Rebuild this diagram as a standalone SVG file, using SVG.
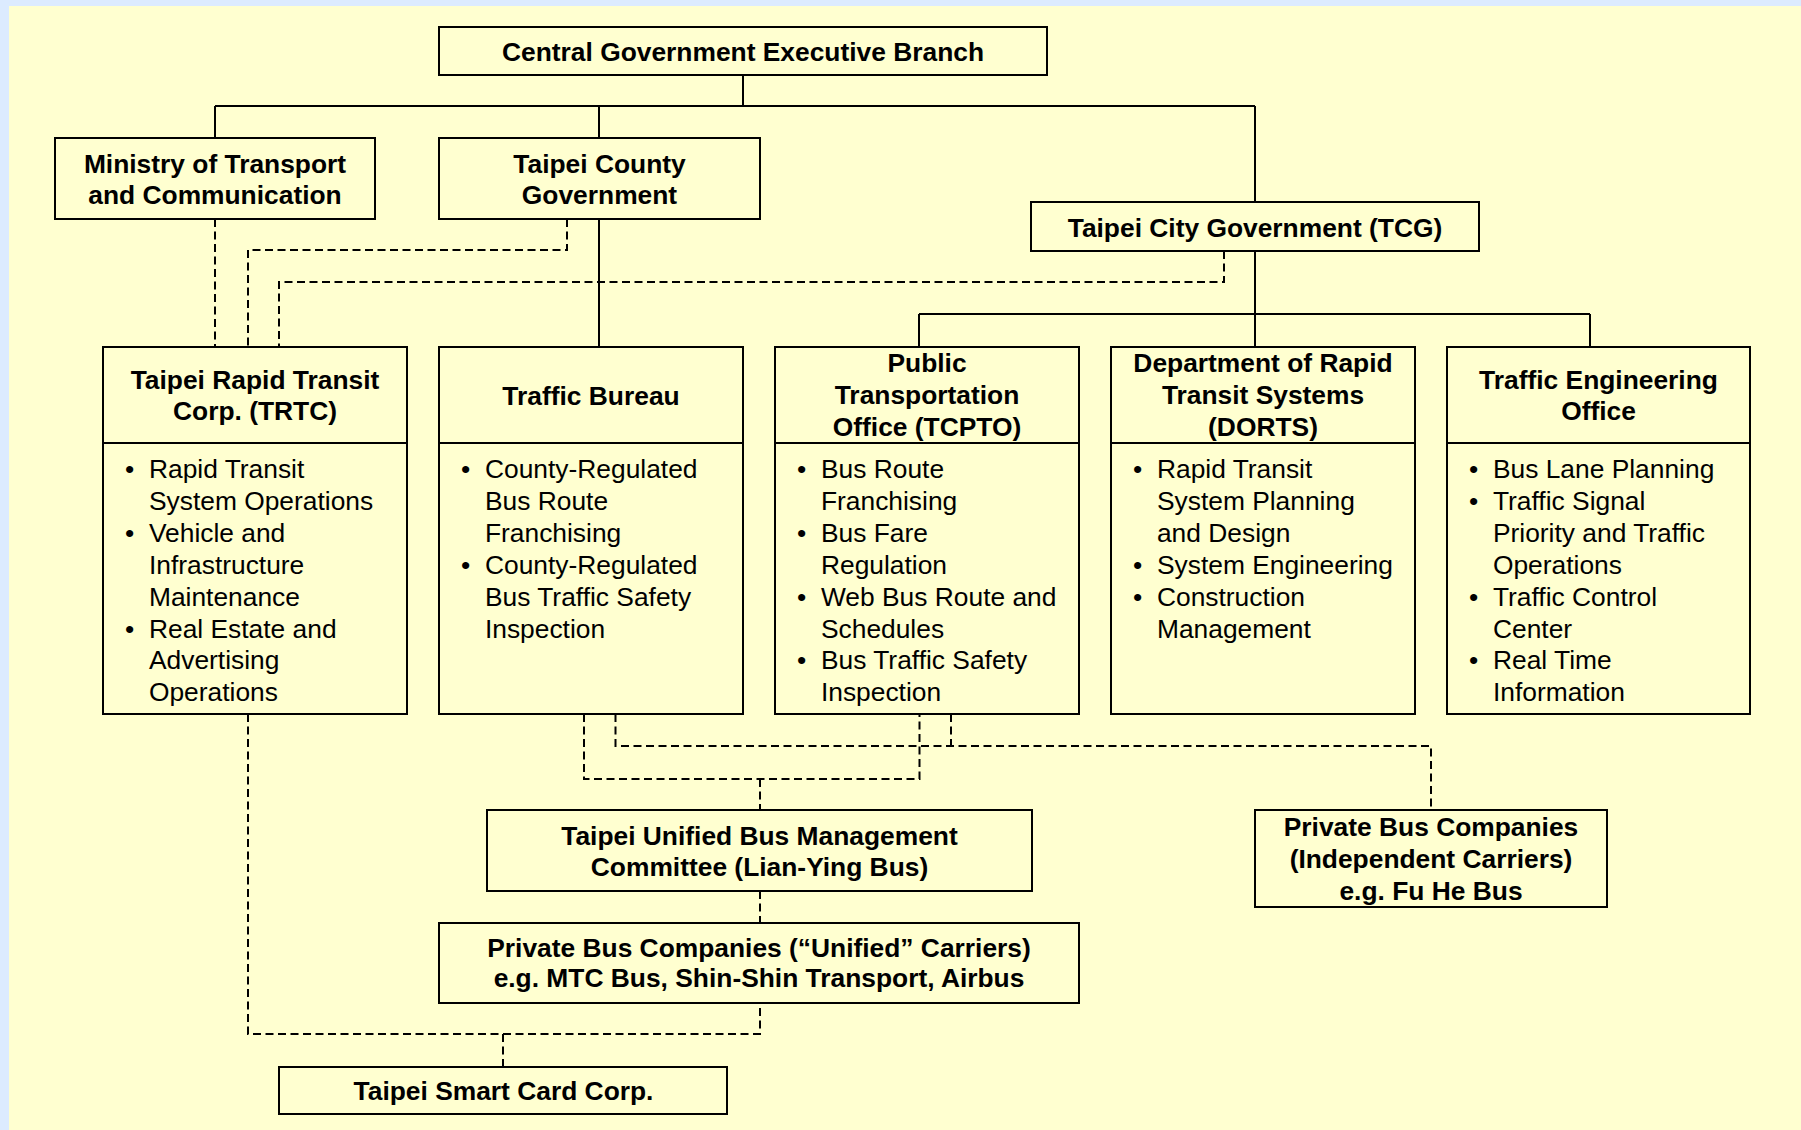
<svg xmlns="http://www.w3.org/2000/svg" width="1801" height="1130" viewBox="0 0 1801 1130">
<style>
.box{fill:none;stroke:#000;stroke-width:2}
.ln{fill:none;stroke:#000;stroke-width:2}
.dl{fill:none;stroke:#000;stroke-width:2;stroke-dasharray:8 4.5}
.b{font-family:"Liberation Sans",Arial,sans-serif;font-weight:bold;font-size:25px;text-anchor:middle;fill:#000}
.r{font-family:"Liberation Sans",Arial,sans-serif;font-size:25px;fill:#000}
</style>
<rect x="0" y="0" width="1801" height="1130" fill="#FFFFD0"/>
<rect x="0" y="0" width="1801" height="6" fill="#DCEBFF"/>
<rect x="0" y="0" width="9" height="1130" fill="#DCEBFF"/>

<g id="connectors">
<path class="ln" d="M743,75 V106 M215,106 H1255 M215,106 V138 M599,106 V138 M1255,106 V202 M599,219 V347 M1255,251 V314 M919,314 H1590 M919,314 V347 M1255,314 V347 M1590,314 V347"/>
<path class="dl" d="M215,219 V347"/>
<path class="dl" d="M567,219 V250 H248 V347"/>
<path class="dl" d="M1224,251 V282 H279 V347"/>
<path class="dl" d="M248,714 V1034 H760 V1003"/>
<path class="dl" d="M503,1034 V1067"/>
<path class="dl" d="M584,714 V779 H919.5 V714"/>
<path class="dl" d="M760,779 V810"/>
<path class="dl" d="M760,891 V923"/>
<path class="dl" d="M615.5,714 V746 H1431 V810"/>
<path class="dl" d="M951,714 V746"/>
</g>

<g id="central">
<rect class="box" x="439" y="27" width="608" height="48"/>
<text class="b" transform="translate(743,60.7) scale(1.055 1)">Central Government Executive Branch</text>
</g>

<g id="ministry">
<rect class="box" x="55" y="138" width="320" height="81"/>
<text class="b" transform="translate(215,173.3) scale(1.055 1)"><tspan x="0" y="0">Ministry of Transport</tspan><tspan x="0" y="31">and Communication</tspan></text>
</g>

<g id="county">
<rect class="box" x="439" y="138" width="321" height="81"/>
<text class="b" transform="translate(599.5,173.3) scale(1.055 1)"><tspan x="0" y="0">Taipei County</tspan><tspan x="0" y="31">Government</tspan></text>
</g>

<g id="tcg">
<rect class="box" x="1031" y="202" width="448" height="49"/>
<text class="b" transform="translate(1255,236.7) scale(1.055 1)">Taipei City Government (TCG)</text>
</g>

<g id="trtc">
<rect class="box" x="103" y="347" width="304" height="367"/>
<path class="ln" d="M103,443 H407"/>
<text class="b" transform="translate(255,389.3) scale(1.055 1)"><tspan x="0" y="0">Taipei Rapid Transit</tspan><tspan x="0" y="31">Corp. (TRTC)</tspan></text>
<text class="r" transform="translate(125,478.3) scale(1.055 1)">
<tspan x="0" y="0">•</tspan><tspan x="22.7" y="0">Rapid Transit</tspan>
<tspan x="22.7" y="31.85">System Operations</tspan>
<tspan x="0" y="63.7">•</tspan><tspan x="22.7" y="63.7">Vehicle and</tspan>
<tspan x="22.7" y="95.55">Infrastructure</tspan>
<tspan x="22.7" y="127.4">Maintenance</tspan>
<tspan x="0" y="159.25">•</tspan><tspan x="22.7" y="159.25">Real Estate and</tspan>
<tspan x="22.7" y="191.1">Advertising</tspan>
<tspan x="22.7" y="222.95">Operations</tspan>
</text>
</g>

<g id="traffic-bureau">
<rect class="box" x="439" y="347" width="304" height="367"/>
<path class="ln" d="M439,443 H743"/>
<text class="b" transform="translate(591,405) scale(1.055 1)">Traffic Bureau</text>
<text class="r" transform="translate(461,478.3) scale(1.055 1)">
<tspan x="0" y="0">•</tspan><tspan x="22.7" y="0">County-Regulated</tspan>
<tspan x="22.7" y="31.85">Bus Route</tspan>
<tspan x="22.7" y="63.7">Franchising</tspan>
<tspan x="0" y="95.55">•</tspan><tspan x="22.7" y="95.55">County-Regulated</tspan>
<tspan x="22.7" y="127.4">Bus Traffic Safety</tspan>
<tspan x="22.7" y="159.25">Inspection</tspan>
</text>
</g>

<g id="tcpto">
<rect class="box" x="775" y="347" width="304" height="367"/>
<path class="ln" d="M775,443 H1079"/>
<text class="b" transform="translate(927,372.3) scale(1.055 1)"><tspan x="0" y="0">Public</tspan><tspan x="0" y="31.9">Transportation</tspan><tspan x="0" y="63.8">Office (TCPTO)</tspan></text>
<text class="r" transform="translate(797,478.3) scale(1.055 1)">
<tspan x="0" y="0">•</tspan><tspan x="22.7" y="0">Bus Route</tspan>
<tspan x="22.7" y="31.85">Franchising</tspan>
<tspan x="0" y="63.7">•</tspan><tspan x="22.7" y="63.7">Bus Fare</tspan>
<tspan x="22.7" y="95.55">Regulation</tspan>
<tspan x="0" y="127.4">•</tspan><tspan x="22.7" y="127.4">Web Bus Route and</tspan>
<tspan x="22.7" y="159.25">Schedules</tspan>
<tspan x="0" y="191.1">•</tspan><tspan x="22.7" y="191.1">Bus Traffic Safety</tspan>
<tspan x="22.7" y="222.95">Inspection</tspan>
</text>
</g>

<g id="dorts">
<rect class="box" x="1111" y="347" width="304" height="367"/>
<path class="ln" d="M1111,443 H1415"/>
<text class="b" transform="translate(1263,372.3) scale(1.055 1)"><tspan x="0" y="0">Department of Rapid</tspan><tspan x="0" y="31.9">Transit Systems</tspan><tspan x="0" y="63.8">(DORTS)</tspan></text>
<text class="r" transform="translate(1133,478.3) scale(1.055 1)">
<tspan x="0" y="0">•</tspan><tspan x="22.7" y="0">Rapid Transit</tspan>
<tspan x="22.7" y="31.85">System Planning</tspan>
<tspan x="22.7" y="63.7">and Design</tspan>
<tspan x="0" y="95.55">•</tspan><tspan x="22.7" y="95.55">System Engineering</tspan>
<tspan x="0" y="127.4">•</tspan><tspan x="22.7" y="127.4">Construction</tspan>
<tspan x="22.7" y="159.25">Management</tspan>
</text>
</g>

<g id="teo">
<rect class="box" x="1447" y="347" width="303" height="367"/>
<path class="ln" d="M1447,443 H1750"/>
<text class="b" transform="translate(1598.5,389.3) scale(1.055 1)"><tspan x="0" y="0">Traffic Engineering</tspan><tspan x="0" y="31">Office</tspan></text>
<text class="r" transform="translate(1469,478.3) scale(1.055 1)">
<tspan x="0" y="0">•</tspan><tspan x="22.7" y="0">Bus Lane Planning</tspan>
<tspan x="0" y="31.85">•</tspan><tspan x="22.7" y="31.85">Traffic Signal</tspan>
<tspan x="22.7" y="63.7">Priority and Traffic</tspan>
<tspan x="22.7" y="95.55">Operations</tspan>
<tspan x="0" y="127.4">•</tspan><tspan x="22.7" y="127.4">Traffic Control</tspan>
<tspan x="22.7" y="159.25">Center</tspan>
<tspan x="0" y="191.1">•</tspan><tspan x="22.7" y="191.1">Real Time</tspan>
<tspan x="22.7" y="222.95">Information</tspan>
</text>
</g>

<g id="lian-ying">
<rect class="box" x="487" y="810" width="545" height="81"/>
<text class="b" transform="translate(759.5,845) scale(1.055 1)"><tspan x="0" y="0">Taipei Unified Bus Management</tspan><tspan x="0" y="31">Committee (Lian-Ying Bus)</tspan></text>
</g>

<g id="unified-carriers">
<rect class="box" x="439" y="923" width="640" height="80"/>
<text class="b" transform="translate(759,956.7) scale(1.055 1)"><tspan x="0" y="0">Private Bus Companies (“Unified” Carriers)</tspan><tspan x="0" y="30.6">e.g. MTC Bus, Shin-Shin Transport, Airbus</tspan></text>
</g>

<g id="independent-carriers">
<rect class="box" x="1255" y="810" width="352" height="97"/>
<text class="b" transform="translate(1431,836) scale(1.055 1)"><tspan x="0" y="0">Private Bus Companies</tspan><tspan x="0" y="32">(Independent Carriers)</tspan><tspan x="0" y="64">e.g. Fu He Bus</tspan></text>
</g>

<g id="smart-card">
<rect class="box" x="279" y="1067" width="448" height="47"/>
<text class="b" transform="translate(503.5,1100) scale(1.055 1)">Taipei Smart Card Corp.</text>
</g>
</svg>
